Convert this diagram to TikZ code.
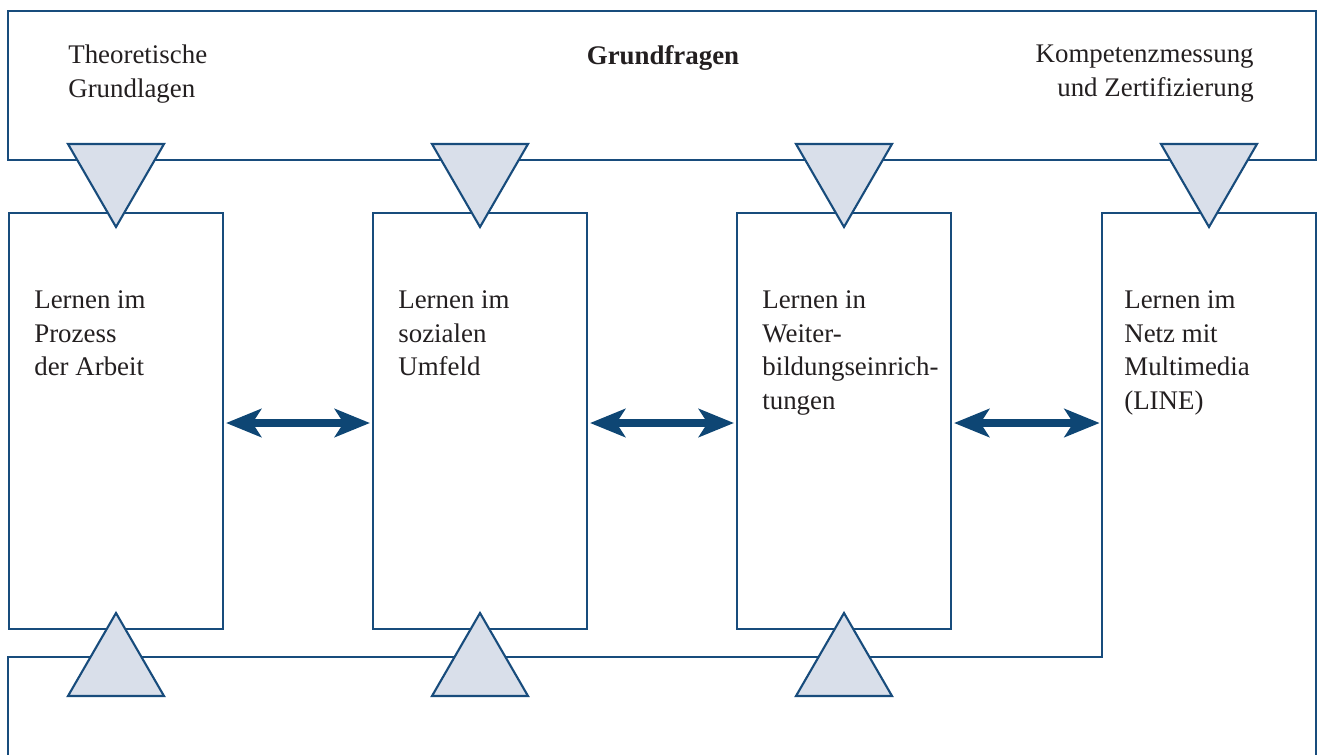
\documentclass[tikz,border=0pt]{standalone}
\usepackage{fontspec}
\setmainfont{Liberation Serif}
\usetikzlibrary{arrows.meta}
\definecolor{frameblue}{RGB}{24,76,124}
\definecolor{arrowblue}{RGB}{14,70,116}
\definecolor{trifill}{RGB}{217,223,234}
\definecolor{ink}{RGB}{35,31,32}
\tikzset{
  frameline/.style={draw=frameblue, line width=1.2pt},
  lbox/.style={frameline, rectangle, minimum width=214*0.02cm, minimum height=416*0.02cm, inner sep=0pt},
  label/.style={text=ink, font=\fontsize{15.3pt}{19.3pt}\selectfont, inner sep=0pt},
  tri/.style={draw=frameblue, fill=trifill, line width=1.2pt, line join=miter},
  link/.style={draw=arrowblue, line width=4.2pt,
    {Stealth[length=20pt, width=16pt, inset=5pt]}-{Stealth[length=20pt, width=16pt, inset=5pt]}}
}
\begin{document}
\begin{tikzpicture}[x=0.02cm, y=-0.02cm]
\useasboundingbox (0,0) rectangle (1318,754);

% top frame: Grundfragen
\node[frameline, rectangle, inner sep=0pt, minimum width=1308*0.02cm, minimum height=149*0.02cm] (top) at (662,85.5) {};
\node[label, anchor=west, align=left] (theo) at (68,74) {Theoretische\\Grundlagen};
\node[label, anchor=center, font=\fontsize{15.3pt}{19.3pt}\selectfont\bfseries] (grund) at (663,58) {Grundfragen};
\node[label, anchor=east, align=right] (komp) at (1254,74) {Kompetenzmessung\\und Zertifizierung};

% learning boxes
\node[lbox] (b1) at (116,421) {};
\node[lbox] (b2) at (480,421) {};
\node[lbox] (b3) at (844,421) {};
\node[rectangle, inner sep=0pt, minimum width=214*0.02cm, minimum height=444*0.02cm] (b4) at (1209,435) {};

% bottom frame, running into the fourth box
\coordinate (bl) at (b4.south west -| 8,0);
\draw[frameline] (bl |- 0,760) -- (bl) -- (b4.south west) -- (b4.north west) -- (b4.north east) -- (b4.south east) -- (b4.south east |- 0,760);

% box texts
\node[label, anchor=north west, align=left] (t1) at (34,290) {Lernen im\\Prozess\\der Arbeit};
\node[label, anchor=north west, align=left] (t2) at (398,290) {Lernen im\\sozialen\\Umfeld};
\node[label, anchor=north west, align=left] (t3) at (762,290) {Lernen in\\Weiter-\\bildungseinrich-\\tungen};
\node[label, anchor=north west, align=left] (t4) at (1124,290) {Lernen im\\Netz mit\\Multimedia\\(LINE)};

% triangles from the top frame into each box
\foreach \cx in {116,480,844,1209}
  \draw[tri] (\cx-48,144) -- (\cx+48,144) -- (\cx,227) -- cycle;
% triangles from the bottom frame into the first three boxes
\foreach \cx in {116,480,844}
  \draw[tri] (\cx-48,696) -- (\cx+48,696) -- (\cx,613) -- cycle;

% double arrows between neighbouring boxes
\coordinate (a1) at ([yshift=-2*0.02cm]b1.east);
\coordinate (a2) at ([yshift=-2*0.02cm]b2.west);
\coordinate (a3) at ([yshift=-2*0.02cm]b2.east);
\coordinate (a4) at ([yshift=-2*0.02cm]b3.west);
\coordinate (a5) at ([yshift=-2*0.02cm]b3.east);
\coordinate (a6) at (a5 -| b4.west);
\draw[link] ([xshift=2*0.02cm]a1) -- ([xshift=-2*0.02cm]a2);
\draw[link] ([xshift=2*0.02cm]a3) -- ([xshift=-2*0.02cm]a4);
\draw[link] ([xshift=2*0.02cm]a5) -- ([xshift=-2*0.02cm]a6);
\end{tikzpicture}
\end{document}
